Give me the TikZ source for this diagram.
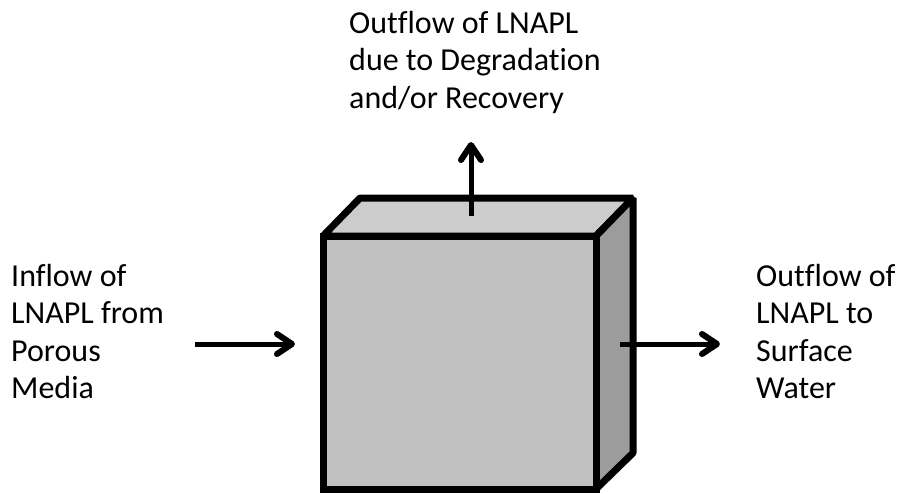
\documentclass[tikz,border=0pt]{standalone}
\usepackage{fontspec}
\setmainfont{Carlito}[Ligatures=NoCommon]
\usetikzlibrary{arrows.meta}
\begin{document}
\begin{tikzpicture}[x=1pt,y=-1pt,
  lbl/.style={align=left,inner sep=0pt,anchor=base west,font=\fontsize{32}{37.5}\selectfont},
  face/.style={draw=black,line width=7pt,line join=bevel},
  flow/.style={line width=5pt,-{Straight Barb[length=15pt,width=20pt,line width=6pt,round]}}]
\useasboundingbox (0,0) rectangle (899,493);
\fill[fill=white] (0,0) rectangle (899,493);
% cube
\draw[face,fill={rgb,255:red,204;green,204;blue,204}] (323,236) -- (360,198) -- (633,198) -- (596,236) -- cycle;
\draw[face,fill={rgb,255:red,156;green,156;blue,156}] (596,236) -- (633,198) -- (633,453) -- (596,489) -- cycle;
\draw[face,line join=miter,fill={rgb,255:red,192;green,192;blue,192}] (323,236) rectangle (596,489);
% anchor points
\coordinate (topS) at (471,216);
\coordinate (topE) at (471,142);
\coordinate (rightS) at (620,344);
\coordinate (rightE) at (720,344);
\coordinate (leftS) at (195,344);
\coordinate (leftE) at (295,344);
% labels
\node[lbl] (inflow) at (11,398.5) {Inflow of\\LNAPL from\\Porous\\Media};
\node[lbl] (outsw) at (756,398.5) {Outflow of\\LNAPL to\\Surface\\Water};
\node[lbl] (outdeg) at (349,108) {Outflow of LNAPL\\due to Degradation\\and/or Recovery};
% arrows
\draw[flow] (topS) -- (topE);
\draw[flow] (rightS) -- (rightE);
\draw[flow] (leftS) -- (leftE);
\end{tikzpicture}
\end{document}
